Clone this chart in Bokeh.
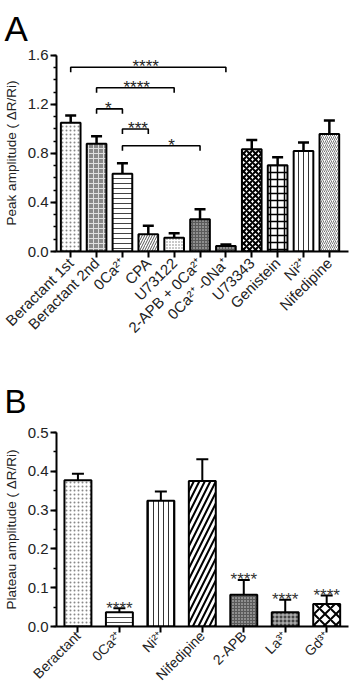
import math
from bokeh.plotting import figure
from bokeh.models import (ColumnDataSource, Whisker, TeeHead, FixedTicker,
                          SingleIntervalTicker, PrintfTickFormatter, Range1d)
from bokeh.layouts import column
from bokeh.core.properties import value
from bokeh.embed import file_html
from bokeh.resources import INLINE

# ---------------- Panel A data ----------------
a_labels = ["Beractant 1st", "Beractant 2nd", "0Ca²⁺", "CPA", "U73122", "2-APB + 0Ca²⁺",
            "0Ca²⁺ -0Na⁺", "U73343", "Genistein", "Ni²⁺", "Nifedipine"]
a_means = [1.05, 0.88, 0.635, 0.14, 0.113, 0.263, 0.045, 0.835, 0.705, 0.82, 0.96]
a_sems = [0.06, 0.06, 0.085, 0.07, 0.036, 0.082, 0.012, 0.075, 0.065, 0.07, 0.11]

# significance brackets (from bar index, to bar index, height, label, label x)
br_left = [0, 1, 1, 2, 2]
br_right = [6, 4, 2, 3, 5]
br_y = [1.504, 1.336, 1.164, 1.0, 0.863]
br_text = ["****", "****", "*", "***", "*"]
br_text_x = [2.9, 2.55, 1.45, 2.6, 3.9]

# ---------------- Panel B data ----------------
b_labels = ["Beractant", "0Ca²⁺", "Ni²⁺", "Nifedipine", "2-APB", "La³⁺", "Gd³⁺"]
b_means = [0.377, 0.037, 0.324, 0.375, 0.082, 0.037, 0.058]
b_sems = [0.017, 0.010, 0.024, 0.056, 0.038, 0.032, 0.022]
b_sig = ["", "****", "", "", "****", "****", "****"]

# ---------------- styles ----------------
FONT = "Liberation Sans"
a_fill = ["white", "#8a8a8a", "white", "white", "white", "#5a5a5a", "#5a5a5a",
          "white", "white", "white", "white"]
a_hatch = [".", "+", "-", "/", ".", ".", ".", "x", "+", "|", "/"]
a_hcolor = ["#888888", "#e0e0e0", "#444444", "#555555", "#777777", "#dddddd", "#dddddd",
            "black", "black", "#333333", "#777777"]
a_hscale = [4, 5, 5, 5, 3, 3, 3, 6, 7, 5, 4]
a_hweight = [1, 1, 1, 1, 1, 1, 1, 2, 1.5, 1, 1]

b_fill = ["white", "white", "white", "white", "#5a5a5a", "#444444", "white"]
b_hatch = [".", "-", "|", "/", ".", "+", "x"]
b_hcolor = ["#888888", "#444444", "#333333", "black", "#dddddd", "#cccccc", "black"]
b_hscale = [4, 5, 5, 11, 3, 4, 11]
b_hweight = [1, 1, 1, 2, 1, 1, 2]


def style_axes(p, xlabel_size="15px", xstandoff=3):
    p.outline_line_color = None
    p.xgrid.grid_line_color = None
    p.ygrid.grid_line_color = None
    for ax in (p.xaxis[0], p.yaxis[0]):
        ax.axis_line_width = 2
        ax.axis_line_color = "black"
        ax.major_tick_line_width = 2
        ax.major_tick_line_color = "black"
        ax.minor_tick_line_width = 1.5
        ax.minor_tick_line_color = "black"
        ax.major_tick_in = 0
        ax.major_tick_out = 6
        ax.minor_tick_in = 0
        ax.minor_tick_out = 3
        ax.major_label_text_font = FONT
        ax.major_label_text_font_size = "15px"
        ax.major_label_text_color = "#222222"
        ax.axis_label_text_font = FONT
        ax.axis_label_text_font_size = "13.5px"
        ax.axis_label_text_font_style = "normal"
        ax.axis_label_text_color = "#222222"
    p.yaxis[0].major_label_standoff = 2
    p.yaxis[0].axis_label_standoff = 6
    p.xaxis[0].major_label_standoff = xstandoff
    p.xaxis[0].major_label_text_font_size = xlabel_size
    p.xaxis[0].minor_tick_line_color = None


def style_title(p, size, standoff):
    p.title.text_font = FONT
    p.title.text_font_size = size
    p.title.text_font_style = "normal"
    p.title.text_color = "black"
    p.title.align = "left"
    p.title.offset = -52
    p.title.standoff = standoff


# ================= Panel A =================
nA = len(a_labels)
srcA = ColumnDataSource(dict(
    x=list(range(nA)), top=a_means, upper=[m + s for m, s in zip(a_means, a_sems)],
    fill=a_fill, hatch=a_hatch, hcolor=a_hcolor, hscale=a_hscale, hweight=a_hweight))

pA = figure(width=361, height=344, x_range=Range1d(-0.549, 10.74), y_range=Range1d(0, 1.608),
            output_backend="svg", toolbar_location=None, title="A",
            min_border_left=55, min_border_right=8, min_border_top=54, min_border_bottom=93)
style_title(pA, "35px", 13)
pA.vbar(x="x", top="top", bottom=0, width=0.76, source=srcA, fill_color="fill",
        line_color="black", line_width=2, hatch_pattern="hatch", hatch_color="hcolor",
        hatch_scale="hscale", hatch_weight="hweight")
pA.add_layout(Whisker(base="x", lower="top", upper="upper", source=srcA,
                      line_color="black", line_width=2.5, lower_head=None,
                      upper_head=TeeHead(size=11, line_width=2.5, line_color="black")))

drop = 0.04
br_xs = [[l, l, r, r] for l, r in zip(br_left, br_right)]
br_ys = [[y - drop, y, y, y - drop] for y in br_y]
pA.multi_line(xs=br_xs, ys=br_ys, line_color="black", line_width=1.6)
pA.text(x=br_text_x, y=[y + 0.005 for y in br_y], text=br_text, text_align="center",
        text_baseline="alphabetic", text_font=value(FONT), text_font_size="17px",
        text_color="#222222")

style_axes(pA)
pA.xaxis.ticker = FixedTicker(ticks=list(range(nA)))
pA.xaxis.major_label_overrides = {i: lab for i, lab in enumerate(a_labels)}
pA.xaxis.major_label_orientation = math.pi / 4
pA.yaxis.ticker = SingleIntervalTicker(interval=0.4, num_minor_ticks=4)
pA.yaxis.formatter = PrintfTickFormatter(format="%.1f")
pA.yaxis.bounds = (0, 1.6)
pA.yaxis.axis_label = "Peak amplitude ( ΔR/Ri)"

# ================= Panel B =================
nB = len(b_labels)
b_upper = [m + s for m, s in zip(b_means, b_sems)]
srcB = ColumnDataSource(dict(
    x=list(range(nB)), top=b_means, upper=b_upper, sig=b_sig,
    fill=b_fill, hatch=b_hatch, hcolor=b_hcolor, hscale=b_hscale, hweight=b_hweight))

pB = figure(width=361, height=348, x_range=Range1d(-0.517, 6.526), y_range=Range1d(0, 0.5),
            output_backend="svg", toolbar_location=None, title="B",
            min_border_left=55, min_border_right=13, min_border_top=88, min_border_bottom=66)
style_title(pB, "33px", 25)
pB.vbar(x="x", top="top", bottom=0, width=0.65, source=srcB, fill_color="fill",
        line_color="black", line_width=2, hatch_pattern="hatch", hatch_color="hcolor",
        hatch_scale="hscale", hatch_weight="hweight")
pB.add_layout(Whisker(base="x", lower="top", upper="upper", source=srcB,
                      line_color="black", line_width=2, lower_head=None,
                      upper_head=TeeHead(size=12, line_width=2, line_color="black")))
pB.text(x="x", y="upper", text="sig", source=srcB, text_align="center",
        text_baseline="alphabetic", text_font=value(FONT), text_font_size="17px",
        text_color="#333333")

style_axes(pB, xlabel_size="14px", xstandoff=1)
pB.xaxis.ticker = FixedTicker(ticks=list(range(nB)))
pB.xaxis.major_label_overrides = {i: lab for i, lab in enumerate(b_labels)}
pB.xaxis.major_label_orientation = math.pi / 4
pB.yaxis.ticker = SingleIntervalTicker(interval=0.1, num_minor_ticks=2)
pB.yaxis.formatter = PrintfTickFormatter(format="%.1f")
pB.yaxis.axis_label = "Plateau amplitude ( ΔR/Ri)"

layout = column(pA, pB, spacing=0)
open("out.html", "w").write(file_html(layout, INLINE))
